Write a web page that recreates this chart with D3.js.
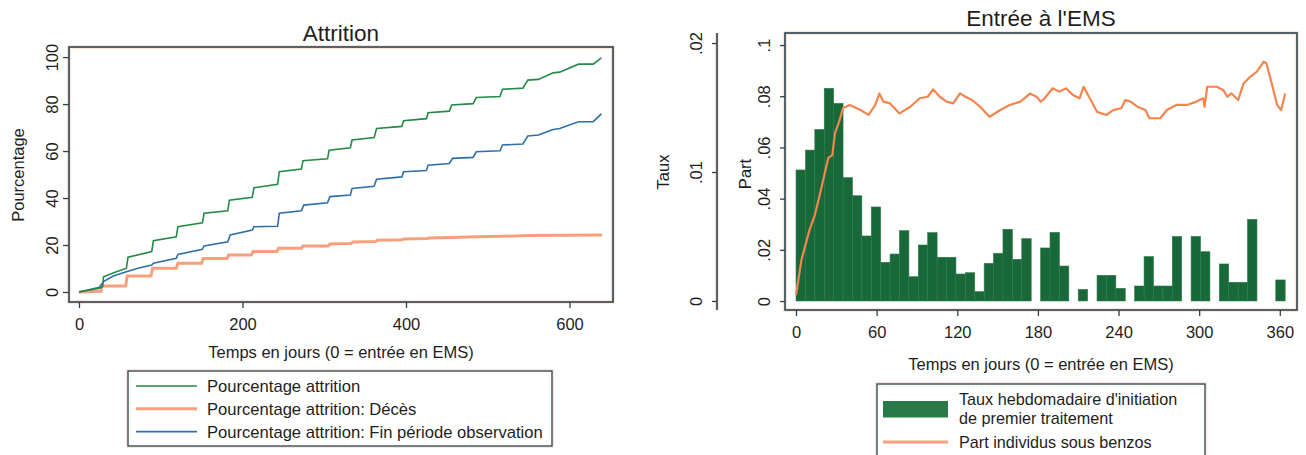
<!DOCTYPE html>
<html>
<head>
<meta charset="utf-8">
<script src="https://cdn.jsdelivr.net/npm/d3@7"></script>
<style>
  body { margin: 0; background: #fff; }
  text { font-family: Arial, "Liberation Sans", sans-serif; fill: #1e1e1e; }
</style>
</head>
<body>
<svg id="chart" width="1306" height="455"></svg>
<script>
// ---------- Attrition (cumulative percentages, [day, %]) ----------
const attritionTotal = [[0,0],[25,1.6],[29,2.2],[30,6.5],[45,8.5],[58,10.1],[60,14.8],[89,17.2],[91,21.8],
  [119,23.5],[121,27.8],[151,29.5],[153,33.5],[182,34.6],[184,39.1],[212,40.3],[214,44.4],[243,45.8],
  [245,51.2],[272,52.3],[274,55.9],[304,56.7],[306,60.4],[332,61.4],[334,64.7],[361,65.8],[364,69.6],
  [395,70.5],[397,72.9],[425,73.8],[427,76.3],[453,77.0],[456,79.6],[482,80.2],[486,82.8],[515,83.2],
  [518,86.3],[543,86.8],[549,90.2],[562,90.5],[580,93.3],[588,93.6],[611,97.0],[629,97.0],[639,99.7]];
const attritionDeaths = [[0,0],[27,0.3],[28,2.5],[57,2.5],[59,6.8],[88,6.8],[90,10.1],[119,10.1],[121,12.2],
  [150,12.2],[152,14.3],[181,14.3],[183,15.7],[211,15.7],[213,17.2],[242,17.2],[244,18.6],[272,18.6],
  [274,19.6],[305,19.6],[307,20.4],[333,20.6],[335,21.3],[363,21.5],[365,22.0],[395,22.2],[397,22.6],
  [426,22.8],[428,23.0],[456,23.2],[486,23.5],[518,23.7],[550,24.0],[640,24.3]];
const attritionEndObs = [[0,0],[25,2.0],[30,4.4],[42,6.8],[58,8.6],[72,10.1],[89,11.5],[91,12.2],[119,14.3],
  [121,16.0],[151,18.2],[153,19.6],[182,21.4],[185,24.3],[212,26.4],[214,27.8],[243,28.0],[245,33.5],
  [272,34.6],[275,37.0],[304,38.0],[307,40.6],[332,41.3],[334,44.1],[361,45.0],[364,48.0],[395,49.0],
  [397,51.2],[425,51.7],[427,54.0],[453,54.7],[457,56.9],[482,57.3],[486,59.7],[515,60.1],[518,62.6],
  [543,63.0],[549,66.4],[562,66.8],[580,69.2],[588,69.6],[611,72.5],[629,72.5],[639,75.8]];
const attritionXTicks = [0, 200, 400, 600];
const attritionYTicks = [0, 20, 40, 60, 80, 100];
const attritionLegend = ["Pourcentage attrition", "Pourcentage attrition: Décès",
  "Pourcentage attrition: Fin période observation"];

// ---------- Entrée à l'EMS ----------
// weekly rate of first treatment initiation, one value per 7-day bin starting at day 0
const weeklyRate = [
  0.01016, 0.0117, 0.0133, 0.01649, 0.01533, 0.00956, 0.00816, 0.00504, 0.00729, 0.0030,
  0.00364, 0.00545, 0.00188, 0.00434, 0.0053, 0.00339, 0.00339, 0.00209, 0.00219, 0.00072,
  0.00292, 0.0037, 0.00556, 0.00323, 0.00483, 0, 0.00411, 0.00532, 0.00271, 0,
  0.0009, 0, 0.00199, 0.00199, 0.00098, 0, 0.00116, 0.00344, 0.00116, 0.00116,
  0.00501, 0, 0.00501, 0.00382, 0, 0.00287, 0.00145, 0.00145, 0.00633, 0,
  0, 0.00163];
// share of residents on benzodiazepines, [day, share]
const benzoShare = [[0,0.0023],[4,0.016],[10,0.0277],[14,0.0336],[18,0.0422],[24,0.0559],[27,0.057],
  [29,0.0656],[32,0.070],[35,0.0754],[40,0.0766],[48,0.0746],[54,0.0727],[59,0.0766],[62,0.0811],
  [65,0.0779],[70,0.0772],[77,0.0733],[85,0.0759],[92,0.0792],[98,0.0798],[102,0.0827],[107,0.0798],
  [112,0.0779],[117,0.0772],[122,0.0811],[126,0.0798],[131,0.0785],[137,0.0759],[144,0.072],[152,0.0746],
  [159,0.0766],[167,0.0779],[173,0.0805],[174,0.0811],[179,0.0798],[182,0.0779],[185,0.0792],[191,0.0831],
  [196,0.0818],[201,0.0831],[206,0.0805],[211,0.0792],[214,0.0837],[218,0.0798],[224,0.0739],[231,0.0727],
  [236,0.0746],[242,0.0753],[245,0.0785],[249,0.0779],[254,0.0759],[260,0.0746],[263,0.0714],[271,0.0714],
  [276,0.0746],[283,0.0766],[291,0.0766],[298,0.0779],[303,0.0792],[304,0.0759],[306,0.0837],[313,0.0837],
  [318,0.0824],[321,0.0798],[324,0.0811],[329,0.0785],[333,0.085],[338,0.0876],[343,0.0896],[348,0.0935],
  [350,0.0929],[354,0.085],[358,0.0766],[361,0.0746],[364,0.0811]];
const emsXTicks = [0, 60, 120, 180, 240, 300, 360];
const tauxTicks = [0, 0.01, 0.02];
const partTicks = [0, 0.02, 0.04, 0.06, 0.08, 0.1];
const emsLegend = [["Taux hebdomadaire d'initiation", "de premier traitement"], ["Part individus sous benzos"]];

const svg = d3.select("#chart");
const FRAME = "#2d434c";
const HALO = "#f8d6c8";
const FS = 16.5;
const fmtStata = v => v === 0 ? "0" : d3.format(".2~f")(v).replace(/^0/, "");

function frame(x0, y0, x1, y1) {
  svg.append("rect").attr("x", x0).attr("y", y0).attr("width", x1 - x0).attr("height", y1 - y0)
    .attr("fill", "none").attr("stroke", HALO).attr("stroke-width", 4).attr("opacity", 0.6);
  svg.append("rect").attr("x", x0).attr("y", y0).attr("width", x1 - x0).attr("height", y1 - y0)
    .attr("fill", "none").attr("stroke", FRAME).attr("stroke-width", 1.6);
}

function styleAxis(g) {
  g.select(".domain").remove();
  g.selectAll(".tick line").attr("stroke", FRAME).attr("stroke-width", 1.3);
  g.selectAll(".tick text").attr("font-size", FS).attr("fill", "#1e1e1e")
    .style("font-family", "Arial, 'Liberation Sans', sans-serif");
}

function rotateLeftLabels(g, offset) {
  g.selectAll(".tick text").attr("x", 0).attr("dy", 0).attr("text-anchor", "middle")
    .attr("transform", `translate(${-offset},0) rotate(-90)`);
}

// ================= Left panel: Attrition =================
const xL = d3.scaleLinear().domain([-12.2, 653.2]).range([69, 613]);
const yL = d3.scaleLinear().domain([-4.26, 104.3]).range([302, 47]);

frame(69, 47, 613, 302);

svg.append("g").attr("transform", "translate(0,302)")
  .call(d3.axisBottom(xL).tickValues(attritionXTicks).tickSize(6).tickPadding(10))
  .call(styleAxis);
svg.append("g").attr("transform", "translate(69,0)")
  .call(d3.axisLeft(yL).tickValues(attritionYTicks).tickSize(6))
  .call(styleAxis).call(g => rotateLeftLabels(g, 11));

const lineL = d3.line().x(d => xL(d[0])).y(d => yL(d[1]));
svg.append("path").datum(attritionDeaths).attr("d", lineL).attr("fill", "none")
  .attr("stroke", "#f8a07c").attr("stroke-width", 3);
svg.append("path").datum(attritionEndObs).attr("d", lineL).attr("fill", "none")
  .attr("stroke", "#2f6fa9").attr("stroke-width", 1.6);
svg.append("path").datum(attritionTotal).attr("d", lineL).attr("fill", "none")
  .attr("stroke", "#238a47").attr("stroke-width", 1.6);

svg.append("text").attr("x", 341).attr("y", 41).attr("text-anchor", "middle")
  .attr("font-size", 22.5).text("Attrition");
svg.append("text").attr("transform", "translate(24,175) rotate(-90)").attr("text-anchor", "middle")
  .attr("font-size", FS).text("Pourcentage");
svg.append("text").attr("x", 341).attr("y", 358).attr("text-anchor", "middle")
  .attr("font-size", FS).text("Temps en jours (0 = entrée en EMS)");

// legend
svg.append("rect").attr("x", 128).attr("y", 371).attr("width", 424).attr("height", 75)
  .attr("fill", "none").attr("stroke", HALO).attr("stroke-width", 4).attr("opacity", 0.6);
svg.append("rect").attr("x", 128).attr("y", 371).attr("width", 424).attr("height", 75)
  .attr("fill", "#fff").attr("stroke", FRAME).attr("stroke-width", 1.3);
const legColors = ["#238a47", "#f8a07c", "#2f6fa9"];
const legWidths = [1.6, 3, 1.6];
attritionLegend.forEach((t, i) => {
  const y = 386 + i * 22.8;
  svg.append("line").attr("x1", 136).attr("x2", 197).attr("y1", y).attr("y2", y)
    .attr("stroke", legColors[i]).attr("stroke-width", legWidths[i]);
  svg.append("text").attr("x", 207).attr("y", y + 6).attr("font-size", 16.6).text(t);
});

// ================= Right panel: Entrée à l'EMS =================
const xR = d3.scaleLinear().domain([-8.2, 372.8]).range([785, 1297]);
const yTaux = d3.scaleLinear().domain([-0.0007, 0.02078]).range([310, 33]);
const yPart = d3.scaleLinear().domain([-0.0035, 0.1047]).range([310, 33]);

frame(785, 33, 1297, 310);

// separate axis for the weekly rate
svg.append("line").attr("x1", 717).attr("x2", 717).attr("y1", 33).attr("y2", 310)
  .attr("stroke", HALO).attr("stroke-width", 4).attr("opacity", 0.6);
svg.append("line").attr("x1", 717).attr("x2", 717).attr("y1", 33).attr("y2", 310)
  .attr("stroke", FRAME).attr("stroke-width", 1.6);
svg.append("g").attr("transform", "translate(717,0)")
  .call(d3.axisLeft(yTaux).tickValues(tauxTicks).tickSize(5).tickFormat(fmtStata))
  .call(styleAxis).call(g => rotateLeftLabels(g, 15));
svg.append("g").attr("transform", "translate(785,0)")
  .call(d3.axisLeft(yPart).tickValues(partTicks).tickSize(5).tickFormat(fmtStata))
  .call(styleAxis).call(g => rotateLeftLabels(g, 15));
svg.append("g").attr("transform", "translate(0,310)")
  .call(d3.axisBottom(xR).tickValues(emsXTicks).tickSize(6).tickPadding(10))
  .call(styleAxis);

// weekly bars (7-day bins)
svg.append("g").selectAll("rect")
  .data(weeklyRate.map((v, i) => ({ week: i, v })).filter(d => d.v > 0))
  .join("rect")
  .attr("x", d => xR(d.week * 7))
  .attr("width", d => xR(d.week * 7 + 7) - xR(d.week * 7))
  .attr("y", d => yTaux(d.v))
  .attr("height", d => yTaux(0) - yTaux(d.v))
  .attr("fill", "#19683a").attr("stroke", "#2b7b48").attr("stroke-width", 0.6);

svg.append("path").datum(benzoShare)
  .attr("d", d3.line().x(d => xR(d[0])).y(d => yPart(d[1])))
  .attr("fill", "none").attr("stroke", "#f5854f").attr("stroke-width", 2.2).attr("stroke-linejoin", "round");

svg.append("text").attr("x", 1041).attr("y", 26).attr("text-anchor", "middle")
  .attr("font-size", 22.5).text("Entrée à l'EMS");
svg.append("text").attr("transform", "translate(669,172) rotate(-90)").attr("text-anchor", "middle")
  .attr("font-size", FS).text("Taux");
svg.append("text").attr("transform", "translate(751,174) rotate(-90)").attr("text-anchor", "middle")
  .attr("font-size", FS).text("Part");
svg.append("text").attr("x", 1041).attr("y", 370).attr("text-anchor", "middle")
  .attr("font-size", FS).text("Temps en jours (0 = entrée en EMS)");

// legend
svg.append("rect").attr("x", 877).attr("y", 384).attr("width", 328).attr("height", 90)
  .attr("fill", "none").attr("stroke", HALO).attr("stroke-width", 4).attr("opacity", 0.6);
svg.append("rect").attr("x", 877).attr("y", 384).attr("width", 328).attr("height", 90)
  .attr("fill", "#fff").attr("stroke", FRAME).attr("stroke-width", 1.3);
svg.append("rect").attr("x", 883).attr("y", 401).attr("width", 65).attr("height", 16.5)
  .attr("fill", "#2a7a47");
svg.append("line").attr("x1", 883).attr("x2", 948).attr("y1", 442).attr("y2", 442)
  .attr("stroke", "#f8a07c").attr("stroke-width", 3);
svg.append("text").attr("x", 959).attr("y", 405).attr("font-size", 16.2).text(emsLegend[0][0]);
svg.append("text").attr("x", 959).attr("y", 424).attr("font-size", 16.2).text(emsLegend[0][1]);
svg.append("text").attr("x", 959).attr("y", 448).attr("font-size", 16.2).text(emsLegend[1][0]);
</script>
</body>
</html>
